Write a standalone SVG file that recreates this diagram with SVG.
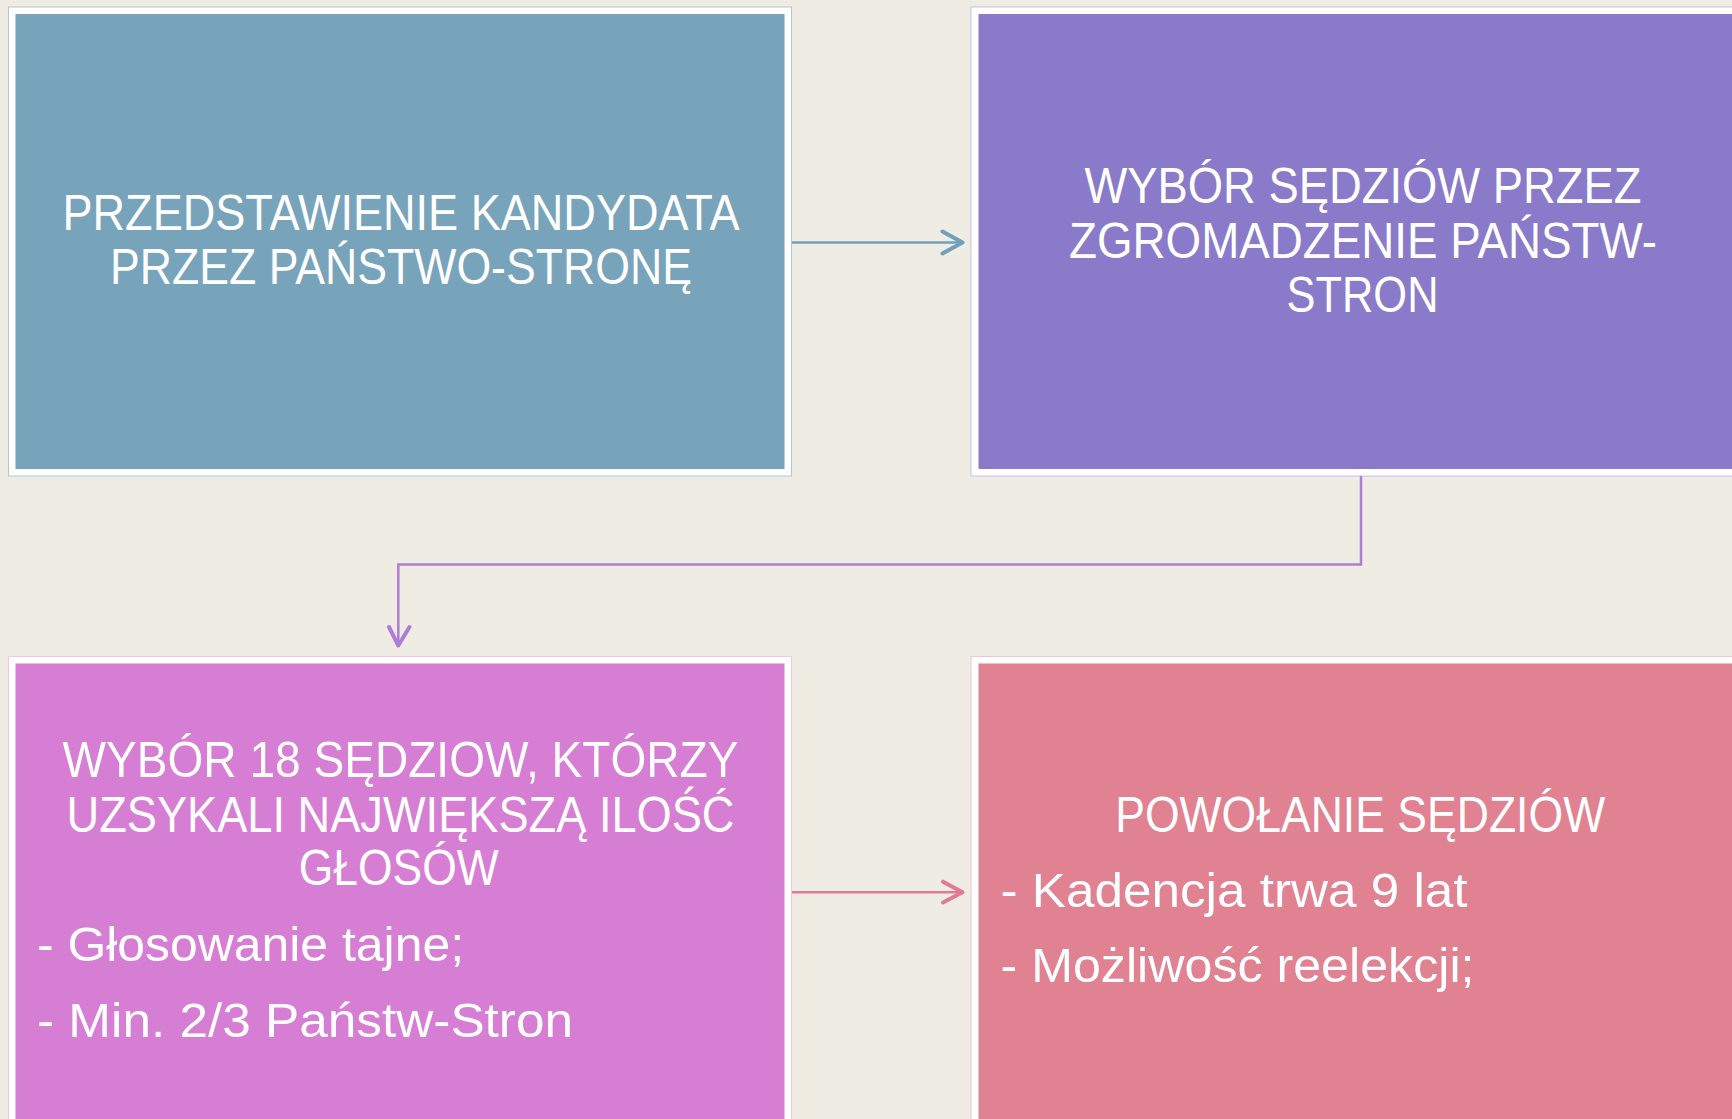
<svg xmlns="http://www.w3.org/2000/svg" width="1732" height="1119" viewBox="0 0 1732 1119">
<style>
.frame{fill:#ffffff;stroke-width:1}
.t{font-family:"Liberation Sans","Noto Sans",Arial,sans-serif;font-size:48px;fill:#ffffff}
.h{font-size:50px}
.c{text-anchor:middle}
.conn{fill:none;stroke-width:2.5}
.head{fill:none;stroke-width:4;stroke-linecap:round;stroke-linejoin:round}
</style>
<rect x="0" y="0" width="1732" height="1119" fill="#EFECE4"/>
<g id="node1">
<rect class="frame" x="8.5" y="7" width="783" height="469" stroke="#AFC8D6"/>
<rect x="15.5" y="14" width="769" height="455" fill="#77A3BB"/>
<text class="t h c" x="401" y="230" textLength="677" lengthAdjust="spacingAndGlyphs">PRZEDSTAWIENIE KANDYDATA</text>
<text class="t h c" x="401" y="284" textLength="582" lengthAdjust="spacingAndGlyphs">PRZEZ PAŃSTWO-STRONĘ</text>
</g>
<g id="node2">
<rect class="frame" x="971" y="7" width="783" height="469" stroke="#C8C0EA"/>
<rect x="978.5" y="14" width="769" height="455" fill="#897BC9"/>
<text class="t h c" x="1363" y="202.5" textLength="557" lengthAdjust="spacingAndGlyphs">WYBÓR SĘDZIÓW PRZEZ</text>
<text class="t h c" x="1363" y="257.5" textLength="588" lengthAdjust="spacingAndGlyphs">ZGROMADZENIE PAŃSTW-</text>
<text class="t h c" x="1362.5" y="311.7" textLength="152" lengthAdjust="spacingAndGlyphs">STRON</text>
</g>
<g id="node3">
<rect class="frame" x="8.5" y="656.5" width="783" height="480" stroke="#F0C4EE"/>
<rect x="15.5" y="663.5" width="769" height="470" fill="#D67ED4"/>
<text class="t h c" x="400.5" y="776.7" textLength="676" lengthAdjust="spacingAndGlyphs">WYBÓR 18 SĘDZIOW, KTÓRZY</text>
<text class="t h c" x="400.5" y="831.7" textLength="668" lengthAdjust="spacingAndGlyphs">UZSYKALI NAJWIĘKSZĄ ILOŚĆ</text>
<text class="t h c" x="398.7" y="885" textLength="200" lengthAdjust="spacingAndGlyphs">GŁOSÓW</text>
<text class="t" x="37" y="961" textLength="427" lengthAdjust="spacingAndGlyphs">- Głosowanie tajne;</text>
<text class="t" x="37" y="1036.7" textLength="536" lengthAdjust="spacingAndGlyphs">- Min. 2/3 Państw-Stron</text>
</g>
<g id="node4">
<rect class="frame" x="971" y="656.5" width="783" height="480" stroke="#F2C6CE"/>
<rect x="978.5" y="663.5" width="769" height="470" fill="#E08292"/>
<text class="t h c" x="1360.2" y="831.7" textLength="490" lengthAdjust="spacingAndGlyphs">POWOŁANIE SĘDZIÓW</text>
<text class="t" x="1000.5" y="906.7" textLength="467" lengthAdjust="spacingAndGlyphs">- Kadencja trwa 9 lat</text>
<text class="t" x="1000.5" y="981.7" textLength="474" lengthAdjust="spacingAndGlyphs">- Możliwość reelekcji;</text>
</g>
<g id="connectors">
<line class="conn" x1="792" y1="242.5" x2="962" y2="242.5" stroke="#72A0BB"/>
<polyline class="head" points="942.5,231.5 962.5,242.5 942.5,253.5" stroke="#72A0BB"/>
<path class="conn" d="M1361,476 V564.5 H398.3 V645" stroke="#B07CD4"/>
<polyline class="head" points="389,627 398.3,645.5 409.5,627" stroke="#B07CD4"/>
<line class="conn" x1="792" y1="892.3" x2="962" y2="892.3" stroke="#E07B93"/>
<polyline class="head" points="943,881.7 962.5,892.3 943,902.5" stroke="#E07B93"/>
</g>
</svg>
